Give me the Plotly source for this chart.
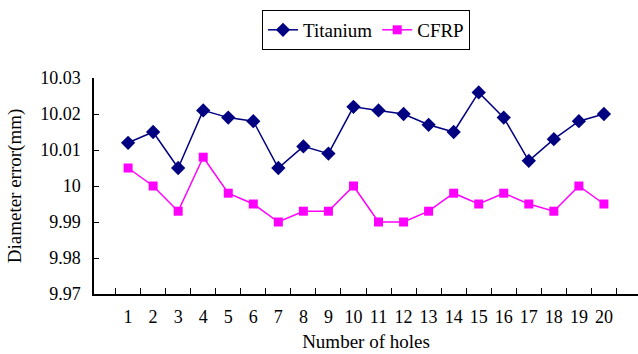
import plotly.graph_objects as go

holes = [str(i) for i in range(1, 21)]
titanium = [10.012, 10.015, 10.005, 10.021, 10.019, 10.018, 10.005, 10.011, 10.009, 10.022,
            10.021, 10.020, 10.017, 10.015, 10.026, 10.019, 10.007, 10.013, 10.018, 10.020]
cfrp = [10.005, 10.000, 9.993, 10.008, 9.998, 9.995, 9.990, 9.993, 9.993, 10.000,
        9.990, 9.990, 9.993, 9.998, 9.995, 9.998, 9.995, 9.993, 10.000, 9.995]
y_ticks = [9.97, 9.98, 9.99, 10.00, 10.01, 10.02, 10.03]
y_tick_text = ["9.97", "9.98", "9.99", "10", "10.01", "10.02", "10.03"]

FONT = "Liberation Serif, Times New Roman, serif"

fig = go.Figure()
fig.add_trace(go.Scatter(
    x=holes, y=titanium, name="Titanium", mode="lines+markers",
    line=dict(color="#000080", width=1.5),
    marker=dict(symbol="diamond", size=11, color="#000080"),
))
fig.add_trace(go.Scatter(
    x=holes, y=cfrp, name="CFRP", mode="lines+markers",
    line=dict(color="#FF00FF", width=1.5),
    marker=dict(symbol="square", size=9, color="#FF00FF"),
))

fig.update_layout(
    width=638, height=354,
    margin=dict(l=94, r=0, t=78, b=60),
    paper_bgcolor="white", plot_bgcolor="white",
    font=dict(family=FONT, size=18, color="black"),
    showlegend=True,
    legend=dict(
        orientation="h", x=0.5, xanchor="center", y=1.315, yanchor="top",
        bordercolor="black", borderwidth=1, font=dict(size=19),
        itemwidth=30, tracegroupgap=0,
    ),
    xaxis=dict(
        type="category", tickson="boundaries", ticks="inside", ticklen=6,
        tickcolor="black", showline=True, linecolor="black", linewidth=1.5,
        showgrid=False, zeroline=False, tickangle=0,
        title=dict(text="Number of holes", standoff=8, font=dict(size=19)),
        tickfont=dict(size=18), ticklabelstandoff=6,
    ),
    yaxis=dict(
        range=[9.97, 10.03], tickvals=y_ticks, ticktext=y_tick_text,
        ticks="inside", ticklen=5, tickcolor="black",
        showline=True, linecolor="black", linewidth=1.5,
        showgrid=False, zeroline=False,
        title=dict(text="Diameter error(mm)", standoff=14, font=dict(size=19)),
        tickfont=dict(size=18), ticklabelstandoff=8,
    ),
)

fig.write_html("out.html")
